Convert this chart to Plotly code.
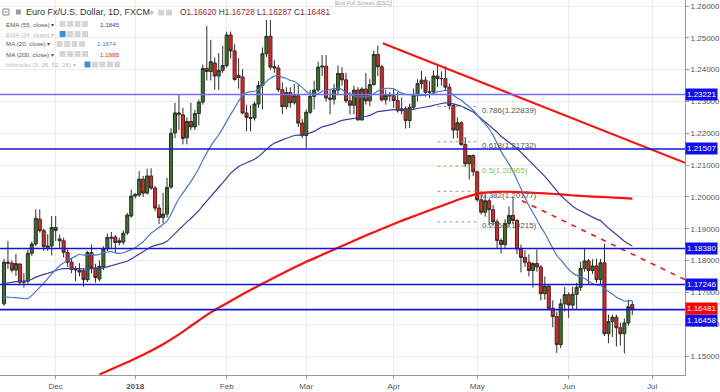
import math
import pandas as pd
import plotly.graph_objects as go

# ------------------------------------------------------------------ data
# daily EUR/USD candles, first bar 2017-11-14, last bar 2018-06-25 (no Dec 25 bar)
opens = [
    1.1664, 1.1795, 1.1792, 1.1770, 1.1789, 1.1732, 1.1735, 1.1823, 1.1852, 1.1930,
    1.1894, 1.1840, 1.1846, 1.1904, 1.1868, 1.1862, 1.1825, 1.1795, 1.1772, 1.1770,
    1.1768, 1.1740, 1.1825, 1.1777, 1.1742, 1.1780, 1.1837, 1.1870, 1.1874, 1.1857,
    1.1858, 1.1887, 1.1940, 1.2003, 1.2006, 1.2056, 1.2012, 1.2066, 1.2028, 1.1965,
    1.1935, 1.1946, 1.2031, 1.2201, 1.2264, 1.2258, 1.2186, 1.2237, 1.2220, 1.2262,
    1.2298, 1.2404, 1.2394, 1.2421, 1.2380, 1.2398, 1.2413, 1.2509, 1.2459, 1.2382,
    1.2377, 1.2264, 1.2250, 1.2248, 1.2292, 1.2350, 1.2450, 1.2505, 1.2410, 1.2405,
    1.2337, 1.2284, 1.2328, 1.2296, 1.2318, 1.2232, 1.2193, 1.2266, 1.2316, 1.2336,
    1.2408, 1.2411, 1.2311, 1.2307, 1.2336, 1.2388, 1.2368, 1.2302, 1.2288, 1.2336,
    1.2242, 1.2339, 1.2302, 1.2353, 1.2448, 1.2409, 1.2305, 1.2319, 1.2318, 1.2303,
    1.2271, 1.2277, 1.2240, 1.2282, 1.2320, 1.2356, 1.2367, 1.2329, 1.2330, 1.2380,
    1.2372, 1.2372, 1.2345, 1.2287, 1.2210, 1.2233, 1.2165, 1.2104, 1.2130, 1.2079,
    1.1991, 1.1952, 1.1988, 1.1960, 1.1922, 1.1863, 1.1850, 1.1917, 1.1942, 1.1926,
    1.1836, 1.1810, 1.1795, 1.1769, 1.1791, 1.1780, 1.1696, 1.1720, 1.1650, 1.1624,
    1.1536, 1.1664, 1.1693, 1.1660, 1.1694, 1.1716, 1.1775, 1.1799, 1.1769, 1.1783,
    1.1740, 1.1793, 1.1570, 1.1608, 1.1622, 1.1589, 1.1570, 1.1604, 1.1662,
]
highs = [
    1.1806, 1.1862, 1.1800, 1.1821, 1.1792, 1.1761, 1.1834, 1.1860, 1.1961, 1.1961,
    1.1900, 1.1883, 1.1940, 1.1940, 1.1882, 1.1872, 1.1835, 1.1805, 1.1782, 1.1792,
    1.1775, 1.1830, 1.1850, 1.1790, 1.1800, 1.1845, 1.1885, 1.1890, 1.1880, 1.1872,
    1.1895, 1.1950, 1.2023, 1.2012, 1.2081, 1.2066, 1.2089, 1.2090, 1.2035, 1.1977,
    1.2013, 1.2060, 1.2216, 1.2296, 1.2323, 1.2280, 1.2250, 1.2296, 1.2274, 1.2306,
    1.2416, 1.2537, 1.2494, 1.2438, 1.2452, 1.2475, 1.2519, 1.2520, 1.2480, 1.2436,
    1.2402, 1.2290, 1.2288, 1.2300, 1.2364, 1.2470, 1.2556, 1.2556, 1.2430, 1.2415,
    1.2360, 1.2345, 1.2345, 1.2355, 1.2355, 1.2245, 1.2275, 1.2336, 1.2365, 1.2425,
    1.2446, 1.2446, 1.2335, 1.2355, 1.2413, 1.2408, 1.2390, 1.2330, 1.2350, 1.2345,
    1.2345, 1.2390, 1.2370, 1.2460, 1.2476, 1.2415, 1.2337, 1.2330, 1.2340, 1.2330,
    1.2312, 1.2285, 1.2293, 1.2340, 1.2370, 1.2396, 1.2378, 1.2365, 1.2397, 1.2414,
    1.2395, 1.2410, 1.2357, 1.2293, 1.2250, 1.2238, 1.2188, 1.2133, 1.2134, 1.2083,
    1.2019, 1.2008, 1.1995, 1.1975, 1.1930, 1.1870, 1.1930, 1.1970, 1.1997, 1.1930,
    1.1850, 1.1833, 1.1820, 1.1795, 1.1835, 1.1785, 1.1750, 1.1724, 1.1675, 1.1640,
    1.1680, 1.1717, 1.1700, 1.1718, 1.1730, 1.1796, 1.1840, 1.1805, 1.1804, 1.1806,
    1.1805, 1.1852, 1.1630, 1.1630, 1.1630, 1.1605, 1.1618, 1.1678, 1.1673,
]
lows = [
    1.1658, 1.1774, 1.1762, 1.1752, 1.1722, 1.1715, 1.1727, 1.1815, 1.1845, 1.1888,
    1.1830, 1.1830, 1.1816, 1.1862, 1.1838, 1.1810, 1.1780, 1.1760, 1.1735, 1.1750,
    1.1718, 1.1733, 1.1760, 1.1730, 1.1735, 1.1770, 1.1830, 1.1840, 1.1825, 1.1848,
    1.1850, 1.1880, 1.1935, 1.1995, 1.2000, 1.2000, 1.2008, 1.2022, 1.1955, 1.1915,
    1.1918, 1.1935, 1.2025, 1.2185, 1.2210, 1.2165, 1.2165, 1.2210, 1.2210, 1.2225,
    1.2290, 1.2366, 1.2366, 1.2337, 1.2336, 1.2390, 1.2406, 1.2435, 1.2365, 1.2340,
    1.2260, 1.2206, 1.2206, 1.2240, 1.2280, 1.2275, 1.2440, 1.2400, 1.2390, 1.2330,
    1.2260, 1.2275, 1.2280, 1.2290, 1.2220, 1.2185, 1.2154, 1.2260, 1.2275, 1.2330,
    1.2380, 1.2300, 1.2260, 1.2290, 1.2320, 1.2350, 1.2295, 1.2260, 1.2260, 1.2240,
    1.2240, 1.2290, 1.2285, 1.2350, 1.2380, 1.2300, 1.2290, 1.2300, 1.2280, 1.2265,
    1.2260, 1.2215, 1.2216, 1.2275, 1.2300, 1.2340, 1.2315, 1.2310, 1.2320, 1.2345,
    1.2350, 1.2335, 1.2275, 1.2183, 1.2185, 1.2160, 1.2095, 1.2055, 1.2065, 1.1985,
    1.1945, 1.1938, 1.1910, 1.1910, 1.1838, 1.1822, 1.1840, 1.1905, 1.1915, 1.1820,
    1.1763, 1.1780, 1.1750, 1.1715, 1.1765, 1.1675, 1.1677, 1.1645, 1.1590, 1.1510,
    1.1525, 1.1640, 1.1620, 1.1645, 1.1646, 1.1705, 1.1765, 1.1727, 1.1758, 1.1730,
    1.1725, 1.1563, 1.1540, 1.1560, 1.1530, 1.1533, 1.1508, 1.1595, 1.1629,
]
closes = [
    1.1795, 1.1792, 1.1770, 1.1791, 1.1732, 1.1735, 1.1823, 1.1852, 1.1933, 1.1894,
    1.1844, 1.1846, 1.1904, 1.1895, 1.1862, 1.1826, 1.1795, 1.1772, 1.1771, 1.1764,
    1.1740, 1.1825, 1.1777, 1.1747, 1.1782, 1.1837, 1.1873, 1.1873, 1.1857, 1.1862,
    1.1886, 1.1943, 1.2003, 1.2008, 1.2056, 1.2012, 1.2066, 1.2028, 1.1965, 1.1935,
    1.1946, 1.2030, 1.2200, 1.2264, 1.2260, 1.2184, 1.2237, 1.2220, 1.2262, 1.2298,
    1.2404, 1.2394, 1.2425, 1.2380, 1.2398, 1.2413, 1.2509, 1.2459, 1.2369, 1.2375,
    1.2264, 1.2250, 1.2247, 1.2292, 1.2350, 1.2450, 1.2505, 1.2408, 1.2405, 1.2337,
    1.2284, 1.2328, 1.2296, 1.2318, 1.2232, 1.2193, 1.2266, 1.2316, 1.2336, 1.2408,
    1.2411, 1.2311, 1.2307, 1.2336, 1.2388, 1.2368, 1.2302, 1.2288, 1.2336, 1.2242,
    1.2339, 1.2302, 1.2353, 1.2448, 1.2409, 1.2305, 1.2319, 1.2318, 1.2303, 1.2271,
    1.2277, 1.2240, 1.2282, 1.2320, 1.2356, 1.2367, 1.2329, 1.2330, 1.2380, 1.2372,
    1.2372, 1.2345, 1.2287, 1.2210, 1.2233, 1.2165, 1.2104, 1.2130, 1.2079, 1.1991,
    1.1952, 1.1988, 1.1960, 1.1922, 1.1863, 1.1850, 1.1917, 1.1942, 1.1926, 1.1836,
    1.1810, 1.1795, 1.1769, 1.1791, 1.1780, 1.1696, 1.1720, 1.1650, 1.1624, 1.1536,
    1.1664, 1.1693, 1.1660, 1.1694, 1.1716, 1.1775, 1.1799, 1.1769, 1.1783, 1.1740,
    1.1793, 1.1570, 1.1608, 1.1622, 1.1589, 1.1570, 1.1604, 1.1655, 1.1648,
]

month_ticks = ["2017-12-01", "2018-01-01", "2018-02-01", "2018-03-01",
               "2018-04-02", "2018-05-01", "2018-06-01", "2018-07-02"]
month_labels = ["Dec", "<b>2018</b>", "Feb", "Mar", "Apr", "May", "Jun", "Jul"]

level_prices = [1.23221, 1.21507, 1.18380, 1.17246, 1.16458]

fib_ratios = ["0.786", "0.618", "0.5", "0.382", "0.236"]
fib_prices = [1.22839, 1.21732, 1.20965, 1.20177, 1.19215]

# indicator readings (bar index -> value)
ma20_head_idx = [0, 2, 4, 6, 8, 10, 12, 14, 16, 18]
ma20_head_vals = [1.1686, 1.1684, 1.1682, 1.1681, 1.1703, 1.1729, 1.1758, 1.1784, 1.1800, 1.1814]
ema55_first = 1.1728
ma200_idx = [24, 28, 32, 36, 40, 44, 48, 52, 56, 60, 64, 68, 72, 76, 80, 84, 88, 92,
             96, 100, 104, 108, 112, 116, 120, 124, 128, 132, 136, 140, 144, 148, 152, 156, 158]
ma200_vals = [1.1442, 1.1464, 1.1486, 1.1510, 1.1537, 1.1568, 1.1603, 1.1637, 1.1666, 1.1694,
              1.1721, 1.1747, 1.1772, 1.1796, 1.1818, 1.1840, 1.1862, 1.1884, 1.1905, 1.1925,
              1.1944, 1.1963, 1.1981, 1.1999, 1.2012, 1.2016, 1.2016, 1.2014, 1.2011, 1.2008,
              1.2004, 1.2001, 1.1999, 1.1996, 1.1995]

trend_idx = [95.25, 171.25]
trend_vals = [1.2483, 1.2107]
dash_idx = [130.25, 171.25]
dash_vals = [1.1988, 1.1740]

last_ohlc = ["1.16620", "1.16728", "1.16287", "1.16481"]
last_close = 1.16481
ema55_label, ma20_label, ma200_label = "1.1845", "1.1674", "1.1995"

# ------------------------------------------------------------------ calendar
cal = pd.bdate_range("2017-11-13", "2018-07-31")
cal = cal[cal != pd.Timestamp("2017-12-25")] + pd.Timedelta(hours=12)
dates = list(cal[1:1 + len(closes)])


def t(i):
    k = math.floor(i + 0.5)
    return cal[k + 1] + pd.Timedelta(days=(i - k))


# ------------------------------------------------------------------ indicators
ma20_calc = pd.Series(closes).rolling(20).mean()
ma20_x = [dates[i] for i in ma20_head_idx] + dates[19:]
ma20_y = ma20_head_vals + list(ma20_calc[19:])

alpha = 2.0 / 56.0
ema55 = [ema55_first]
for c in closes[1:]:
    ema55.append(alpha * c + (1 - alpha) * ema55[-1])

# ------------------------------------------------------------------ figure
W, H = 689.0, 375.0
FONT = "Liberation Sans, Arial, sans-serif"


def pxx(x):
    return x / W


def pxy(y):
    return 1 - y / H


fig = go.Figure()
fig.add_trace(go.Candlestick(
    x=dates, open=opens, high=highs, low=lows, close=closes,
    increasing=dict(fillcolor="#37761d", line=dict(color="#2e2e2e", width=1)),
    decreasing=dict(fillcolor="#ff1a1a", line=dict(color="#2e2e2e", width=1)),
    whiskerwidth=0, showlegend=False, hoverinfo="skip",
))
fig.add_trace(go.Scatter(x=[dates[i] for i in ma200_idx], y=ma200_vals, mode="lines",
                         line=dict(color="#ff1010", width=2.2, shape="spline"),
                         showlegend=False, hoverinfo="skip"))
fig.add_trace(go.Scatter(x=dates, y=ema55, mode="lines",
                         line=dict(color="#3b3bab", width=1.2),
                         showlegend=False, hoverinfo="skip"))
fig.add_trace(go.Scatter(x=ma20_x, y=ma20_y, mode="lines",
                         line=dict(color="#4877cf", width=1.2, shape="spline"),
                         showlegend=False, hoverinfo="skip"))
# trend lines
fig.add_trace(go.Scatter(x=[t(i) for i in trend_idx], y=trend_vals, mode="lines",
                         line=dict(color="#ff1010", width=2), showlegend=False, hoverinfo="skip"))
fig.add_trace(go.Scatter(x=[t(i) for i in dash_idx], y=dash_vals, mode="lines",
                         line=dict(color="#ff1010", width=1.6, dash="5px,6px"),
                         showlegend=False, hoverinfo="skip"))

shapes = []
annotations = []

# horizontal levels
for k, p in enumerate(level_prices):
    col = "#6f6ff0" if k == 0 else "#1414d6"
    shapes.append(dict(type="line", xref="paper", x0=0, x1=1, yref="y", y0=p, y1=p,
                       line=dict(color=col, width=1.6)))
    annotations.append(dict(xref="paper", x=1, xanchor="left", yref="y", y=p,
                            yshift=(-11 if k == 4 else 0),
                            text="%.5f" % p, showarrow=False, bgcolor="#1010ee",
                            font=dict(color="white", size=8, family=FONT), borderpad=1))
annotations.append(dict(xref="paper", x=1, xanchor="left", yref="y", y=last_close,
                        text="%.5f" % last_close, showarrow=False, bgcolor="#ff0000",
                        font=dict(color="white", size=8, family=FONT), borderpad=1))

# fibonacci levels
for r, p in zip(fib_ratios, fib_prices):
    col = "#8bc34a" if r == "0.5" else "#9a9a9a"
    tcol = "#8bc34a" if r == "0.5" else "#555555"
    shapes.append(dict(type="line", xref="x", x0=t(109), x1=t(119.5), yref="y", y0=p, y1=p,
                       line=dict(color=col, width=1, dash="dot")))
    annotations.append(dict(xref="x", x=t(119.75), xanchor="left", yref="y", y=p, yshift=-4,
                            text="%s(%.5f)" % (r, p), showarrow=False,
                            font=dict(color=tcol, size=8, family=FONT)))

# legend block
def text(x, y, s, size, color):
    annotations.append(dict(xref="paper", yref="paper", x=pxx(x), y=pxy(y), xanchor="left",
                            yanchor="middle", text=s, showarrow=False,
                            font=dict(size=size, color=color, family=FONT)))


def icon(x, y, color="#d3d3d3"):
    shapes.append(dict(type="rect", xref="paper", yref="paper", x0=pxx(x), x1=pxx(x + 6),
                       y0=pxy(y - 3), y1=pxy(y + 3), fillcolor=color, line=dict(width=0)))


shapes.append(dict(type="rect", xref="paper", yref="paper", x0=pxx(3), x1=pxx(9),
                   y0=pxy(9), y1=pxy(15), line=dict(color="#8a8a8a", width=1)))
shapes.append(dict(type="line", xref="paper", yref="paper", x0=pxx(4.5), x1=pxx(7.5),
                   y0=pxy(12), y1=pxy(12), line=dict(color="#8a8a8a", width=1)))
shapes.append(dict(type="rect", xref="paper", yref="paper", x0=pxx(16), x1=pxx(21),
                   y0=pxy(9.5), y1=pxy(14.5), fillcolor="#999999", line=dict(width=0)))
text(24, 12.5, "Euro Fx/U.S. Dollar, 1D, FXCM", 9, "#333333")
text(149, 12.5, "▾", 7, "#aaaaaa")
icon(159, 12.5)
icon(167, 12.5)
vc = "#a3282d"
text(179, 12.5, "O<span style='color:%s'>%s</span> H<span style='color:%s'>%s</span> "
     "L<span style='color:%s'>%s</span> C<span style='color:%s'>%s</span>"
     % (vc, last_ohlc[0], vc, last_ohlc[1], vc, last_ohlc[2], vc, last_ohlc[3]), 8.3, "#333333")

rows = [
    ("EMA (55, close) ▾", 24, "#555555", 60, 4, False, ema55_label, "#3b3bab", 99),
    ("EMA (34, close) ▾", 34, "#bbbbbb", 60, 4, True, None, None, 0),
    ("MA (20, close) ▾", 44, "#555555", 57, 4, False, ma20_label, "#4877cf", 96),
    ("MA (200, close) ▾", 54, "#555555", 60, 4, False, ma200_label, "#ff1010", 99),
    ("Ichimoku (9, 26, 52, 26) ▾", 64.5, "#bbbbbb", 85, 5, True, None, None, 0),
]
for label, y, col, ix, n, hidden, val, vcol, vx in rows:
    text(4, y, label, 6.2, col)
    for j in range(n):
        icon(ix + 7.5 * j, y, "#3d8fe0" if (hidden and j == 0) else "#d6d6d6")
    if val:
        text(vx, y, val, 6.2, vcol)

annotations.append(dict(xref="paper", yref="paper", x=pxx(366), y=pxy(3.5), xanchor="center",
                        yanchor="middle", text="Exit Full Screen (ESC)", showarrow=False,
                        font=dict(size=5.5, color="#aaaaaa", family=FONT),
                        bgcolor="#fafafa", bordercolor="#dddddd", borderwidth=1, borderpad=0))

fig.update_layout(
    width=720, height=392,
    margin=dict(l=0, r=31, t=0, b=17),
    paper_bgcolor="white", plot_bgcolor="white",
    showlegend=False,
    boxgap=0.15, boxgroupgap=0.1,
    shapes=shapes, annotations=annotations,
    xaxis=dict(
        type="date", range=[t(-1.0), t(171.25)],
        rangebreaks=[dict(bounds=["sat", "mon"]), dict(values=["2017-12-25"])],
        rangeslider=dict(visible=False),
        tickvals=[pd.Timestamp(d) + pd.Timedelta(hours=12) for d in month_ticks],
        ticktext=month_labels,
        tickfont=dict(size=8, color="#555555", family=FONT),
        showgrid=True, gridcolor="#ececec", gridwidth=1,
        showline=True, linecolor="#9a9a9a", linewidth=1,
        ticks="outside", ticklen=3, tickcolor="#9a9a9a",
        zeroline=False, fixedrange=True,
    ),
    yaxis=dict(
        side="right", range=[1.14404, 1.26189],
        tick0=1.15, dtick=0.01, tickformat=".5f",
        tickfont=dict(size=8, color="#555555", family=FONT),
        showgrid=True, gridcolor="#ececec", gridwidth=1,
        showline=True, linecolor="#9a9a9a", linewidth=1,
        ticks="outside", ticklen=3, tickcolor="#9a9a9a",
        zeroline=False, fixedrange=True,
    ),
)

fig.write_html("out.html", config={"displayModeBar": False, "staticPlot": True},
               post_script="document.body.style.margin='0';")
